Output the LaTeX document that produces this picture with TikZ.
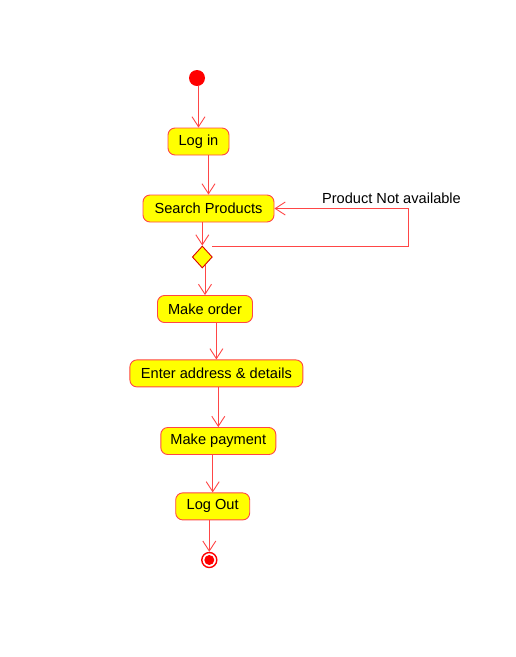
\documentclass[tikz,border=0pt]{standalone}
\usepackage{fontspec}
\setmainfont{Liberation Sans}
\usetikzlibrary{arrows.meta,shapes.geometric}
\definecolor{lred}{RGB}{255,70,70}
\definecolor{ayellow}{RGB}{255,255,0}
\tikzset{
  act/.style={draw=lred, fill=ayellow, rounded corners=7pt, line width=0.9pt,
    minimum height=27pt, inner sep=0pt, font=\fontsize{14.6}{17}\selectfont},
  flow/.style={draw=lred, line width=0.9pt, -{Straight Barb[length=10pt,width=13pt,line width=0.9pt]}},
  dec/.style={diamond, draw=red!85!black, fill=ayellow, line width=0.9pt,
    minimum width=20pt, minimum height=22pt, inner sep=0pt},
}
\begin{document}
\begin{tikzpicture}[x=1pt,y=-1pt]
\useasboundingbox (0,0) rectangle (515,657);
\node[circle, fill=red, minimum size=16pt, inner sep=0pt] (start) at (197,78) {};
\node[act, minimum width=61pt] (login) at (198.5,141.5) {Log in};
\node[act, minimum width=131pt] (search) at (208.5,208.5) {Search Products};
\node[dec] (dia) at (202.3,257) {};
\node[act, minimum width=95pt] (order) at (205,309) {Make order};
\node[act, minimum width=173pt] (addr) at (216.4,373.4) {Enter address \& details};
\node[act, minimum width=115pt] (pay) at (218.3,441) {Make payment};
\node[act, minimum width=74pt] (logout) at (212.7,506.4) {Log Out};
\node[circle, draw=red, line width=1.4pt, minimum size=15pt, inner sep=0pt] (end) at (209.3,560) {};
\fill[red] (end.center) circle (5pt);
\node[font=\fontsize{14.6}{17}\selectfont, anchor=base] (lbl) at (391.5,203) {Product Not available};
\coordinate (loopstart) at (212,246.5);
\coordinate (c1) at (408,246.5);

\draw[flow] (start.south -| login.north) -- (login.north);
\draw[flow] (login.south -| search.north) -- (search.north);
\draw[flow] (search.south -| dia.north) -- (dia.north);
\draw[flow] (205,265) -- (order.north);
\draw[flow] (order.south -| addr.north) -- (addr.north);
\draw[flow] (addr.south -| pay.north) -- (pay.north);
\draw[flow] (pay.south -| logout.north) -- (logout.north);
\draw[flow] (logout.south -| end.north) -- (end.north);
\draw[flow] (loopstart) -- (c1) |- (search.east);
\end{tikzpicture}
\end{document}
